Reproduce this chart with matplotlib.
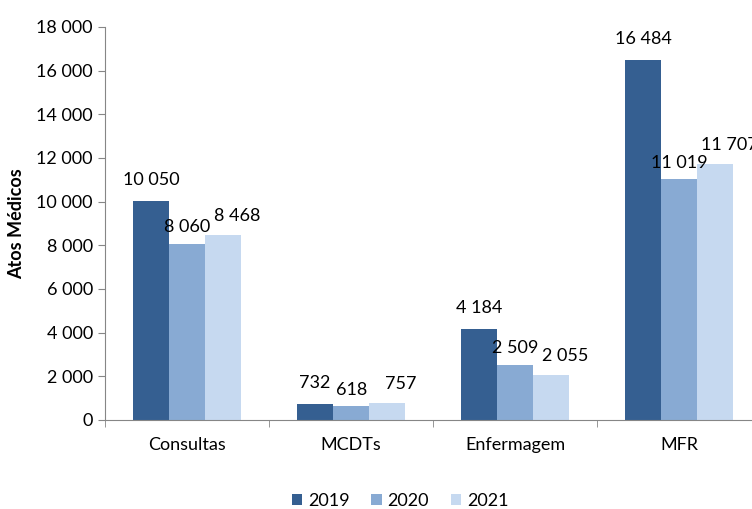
import numpy as np
import matplotlib.pyplot as plt
from matplotlib.ticker import FuncFormatter, FixedLocator

plt.rcParams['font.family'] = ['Lato', 'DejaVu Sans']

categories = ['Consultas', 'MCDTs', 'Enfermagem', 'MFR']
years = ['2019', '2020', '2021']
v2019 = [10050, 732, 4184, 16484]
v2020 = [8060, 618, 2509, 11019]
v2021 = [8468, 757, 2055, 11707]
colors = ['#355F91', '#88AAD3', '#C6D9F0']

def fmt(v, pos=None):
    return f"{int(v):,}".replace(",", " ")

fig = plt.figure(figsize=(7.52, 5.09), dpi=100)
ax = fig.add_axes([0.140, 0.175, 0.872, 0.772])

x = np.arange(len(categories))
w = 0.22
offsets = [(0, 15), (0, 12), (10, 14)]
for i, (vals, yr) in enumerate(zip([v2019, v2020, v2021], years)):
    pos = x + (i - 1) * w
    ax.bar(pos, vals, width=w, color=colors[i], label=yr, zorder=2)
    for px, v in zip(pos, vals):
        ax.annotate(fmt(v), (px, v), xytext=offsets[i], textcoords='offset points',
                    ha='center', va='center', fontsize=13, annotation_clip=False)

ax.set_xlim(-0.5, 3.5)
ax.set_ylim(0, 18000)
ax.set_yticks(np.arange(0, 18001, 2000))
ax.yaxis.set_major_formatter(FuncFormatter(fmt))
ax.set_xticks(x)
ax.set_xticklabels(categories)
ax.xaxis.set_minor_locator(FixedLocator(np.arange(-0.5, 3.6, 1)))
ax.tick_params(axis='x', which='major', length=0, pad=12, labelsize=13)
ax.tick_params(axis='x', which='minor', length=5, color='#868686', direction='out')
ax.tick_params(axis='y', length=5, color='#868686', labelsize=13, pad=4)

for s in ['top', 'right']:
    ax.spines[s].set_visible(False)
for s in ['left', 'bottom']:
    ax.spines[s].set_color('#868686')

ax.set_ylabel('Atos Médicos', fontsize=13, fontweight='bold', labelpad=8)

fig.legend(loc='center', bbox_to_anchor=(400 / 752, 1 - 501 / 509), ncol=3, frameon=False,
           fontsize=13, handlelength=0.6, handleheight=0.6, handletextpad=0.3, columnspacing=1.2)

fig.savefig('out.png', dpi=100)
